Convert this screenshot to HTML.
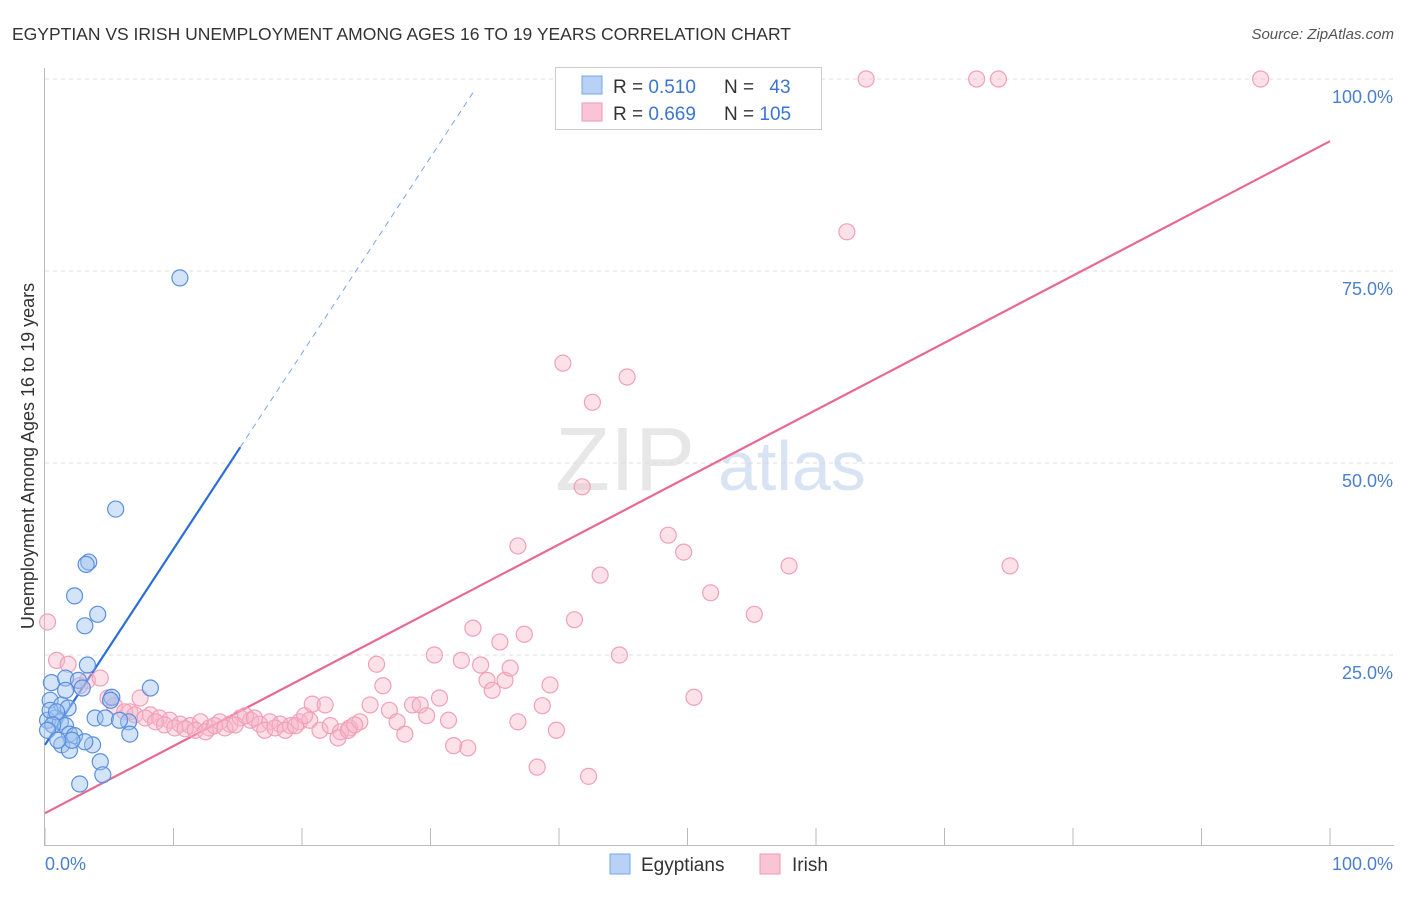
<!DOCTYPE html>
<html><head><meta charset="utf-8"><style>
body{margin:0;background:#fff;font-family:"Liberation Sans",sans-serif}
svg text{font-family:"Liberation Sans",sans-serif}
</style></head><body>
<svg width="1406" height="892" viewBox="0 0 1406 892" xmlns="http://www.w3.org/2000/svg">
<text x="12" y="40" font-size="17.5" fill="#333">EGYPTIAN VS IRISH UNEMPLOYMENT AMONG AGES 16 TO 19 YEARS CORRELATION CHART</text>
<text x="1394" y="39" font-size="15" fill="#555" font-style="italic" text-anchor="end">Source: ZipAtlas.com</text>
<text transform="translate(34,456) rotate(-90)" font-size="18" fill="#333" text-anchor="middle">Unemployment Among Ages 16 to 19 years</text>
<g id="grid"></g>
<g id="axes"></g>
<g>
<text x="555" y="490" font-size="90" fill="#ddd" font-family="Liberation Serif" opacity="0.7">ZIP</text>
<text x="718" y="490" font-size="70" fill="#c8d8f0" opacity="0.7">atlas</text>
</g>
<g id="lines"></g>
<g id="pts"></g>
<g>
<rect x="555.5" y="67.5" width="266" height="62" fill="#fff" stroke="#ccc"/>
<rect x="582" y="76" width="20" height="18" fill="#b8d2f5" stroke="#7aa6e6"/>
<rect x="582" y="103" width="20" height="18" fill="#fbc4d4" stroke="#ee9ab4"/>
<text x="613" y="93" font-size="19" fill="#333">R = <tspan fill="#3a75d0">0.510</tspan></text>
<text x="724" y="93" font-size="19" fill="#333">N = <tspan fill="#3a75d0" dx="10">43</tspan></text>
<text x="613" y="120" font-size="19" fill="#333">R = <tspan fill="#3a75d0">0.669</tspan></text>
<text x="724" y="120" font-size="19" fill="#333">N = <tspan fill="#3a75d0">105</tspan></text>
</g>
<g>
<rect x="610" y="854" width="20" height="20" fill="#b8d2f5" stroke="#7aa6e6"/>
<text x="641" y="871" font-size="19" fill="#333">Egyptians</text>
<rect x="760" y="854" width="20" height="20" fill="#fbc4d4" stroke="#ee9ab4"/>
<text x="792" y="871" font-size="19" fill="#333">Irish</text>
</g>
</svg>
<script>
const yTicks=[25,50,75,100];
const yTickLabels=["25.0%","50.0%","75.0%","100.0%"];
const xTicks=[0,10,20,30,40,50,60,70,80,90,100];
const egyX=[10.5,5.5,3.4,3.2,2.3,4.1,3.1,0.5,1.6,2.6,3.3,5.2,8.2,0.4,1.3,1.8,0.8,0.2,1.2,1.6,3.9,4.7,6.5,6.6,1.9,2.3,1.3,1.9,3.7,4.3,4.5,2.7,0.4,0.9,0.6,0.2,3.1,5.8,5.1,2.1,1.0,1.6,2.9];
const egyY=[74.1,44.0,37.1,36.8,32.7,30.3,28.8,21.4,22.0,21.7,23.7,19.5,20.7,19.1,18.5,18.1,16.8,16.5,16.3,15.8,16.8,16.8,16.3,14.7,14.7,14.5,13.3,12.6,13.3,11.1,9.4,8.2,17.8,17.6,15.9,15.2,13.7,16.5,19.1,13.9,13.9,20.4,20.7];
const irX=[0.2,0.9,1.8,2.7,3.3,4.3,4.9,7.4,6.6,8.2,8.9,9.7,10.5,11.3,12.1,12.8,13.6,14.4,15.2,16.0,16.7,17.5,18.3,19.1,19.8,20.6,21.4,22.2,23.0,23.7,24.5,5.4,6.2,7.0,7.8,8.6,9.3,10.1,10.9,11.7,12.5,13.2,14.0,14.8,15.6,16.3,17.1,17.9,18.7,19.5,20.2,20.8,21.8,22.8,23.6,24.1,25.3,25.8,26.3,26.8,27.4,28.0,28.6,29.2,29.7,30.3,30.7,31.4,31.8,32.4,32.9,33.3,33.9,34.4,34.8,35.4,35.8,36.2,36.8,37.3,36.8,38.3,38.7,39.3,39.8,40.3,41.2,41.8,42.3,42.6,43.2,44.7,45.3,48.5,49.7,50.5,51.8,55.2,57.9,62.4,75.1,63.9,72.5,74.2,94.6,47.6,55.9];
const irY=[29.3,24.3,23.8,21.0,21.7,22.0,19.4,19.4,17.6,17.2,16.8,16.5,16.0,15.8,16.3,15.5,16.3,16.0,16.8,16.5,16.0,16.3,16.0,15.8,16.3,16.5,15.2,15.8,15.0,15.5,16.3,18.4,17.6,17.2,16.8,16.3,15.9,15.5,15.4,15.2,15.0,15.8,15.5,15.9,17.1,16.8,15.2,15.5,15.2,15.8,17.1,18.6,18.5,14.2,15.2,15.9,18.5,23.8,21.0,17.8,16.3,14.7,18.5,18.5,17.1,25.0,19.4,16.5,13.2,24.3,12.9,28.5,23.7,21.7,20.4,26.7,21.7,23.3,16.3,27.7,39.2,10.4,18.4,21.1,15.2,63.0,29.6,46.9,9.2,57.9,35.4,25.0,61.2,40.6,38.4,19.5,33.1,30.3,36.6,80.1,36.6,100,100,100,100,100,100];
const egyLine=[13.3,2.55];
const irLine=[4.4,0.875];
const sx=v=>45+v*12.85, sy=v=>847-v*7.68;
const NS="http://www.w3.org/2000/svg";
function mk(t,a,p){const e=document.createElementNS(NS,t);for(const k in a)e.setAttribute(k,a[k]);p.appendChild(e);return e;}
const grid=document.getElementById('grid'),axes=document.getElementById('axes');
yTicks.forEach((v,i)=>{
 const l=mk('line',{x1:45,x2:1394,y1:sy(v),y2:sy(v),stroke:'#ddd','stroke-dasharray':'4,4'},grid);
 
 
 const t=mk('text',{x:1393,y:sy(v)+24,'font-size':18,fill:'#4a7fd0','text-anchor':'end'},axes);
 t.textContent=yTickLabels[i];
 
 
});
mk('line',{x1:44.5,x2:44.5,y1:68,y2:845,stroke:'#bbb'},axes);
mk('line',{x1:44,x2:1394,y1:845.5,y2:845.5,stroke:'#bbb'},axes);
xTicks.forEach(v=>{const l=mk('line',{x1:sx(v),x2:sx(v),y1:828,y2:845,stroke:'#bbb'},axes);
 
 });
let t1=mk('text',{x:45,y:870,'font-size':18,fill:'#4a7fd0'},axes);t1.textContent='0.0%';


let t2=mk('text',{x:1393,y:870,'font-size':18,fill:'#4a7fd0','text-anchor':'end'},axes);t2.textContent='100.0%';


const pts=document.getElementById('pts');
irX.forEach((x,i)=>{const c=mk('circle',{cx:sx(x),cy:sy(irY[i]),r:8,fill:'rgba(248,180,200,0.4)',stroke:'#f0a0ba','stroke-width':1.2},pts);
 
 });
egyX.forEach((x,i)=>{const c=mk('circle',{cx:sx(x),cy:sy(egyY[i]),r:8,fill:'rgba(160,195,240,0.45)',stroke:'#5a8fdf','stroke-width':1.2},pts);
 
 });
const lines=document.getElementById('lines');
const f=(L,x)=>L[0]+L[1]*x;
let a=mk('line',{x1:sx(0),y1:sy(f(egyLine,0)),x2:sx(15.2),y2:sy(f(egyLine,15.2)),stroke:'#2a6fd6','stroke-width':2.2},lines);


let b=mk('line',{x1:sx(15.2),y1:sy(f(egyLine,15.2)),x2:sx(33.4),y2:sy(f(egyLine,33.4)),stroke:'#7aa6e6','stroke-width':1,'stroke-dasharray':'6,5'},lines);


let c=mk('line',{x1:sx(0),y1:sy(f(irLine,0)),x2:sx(100),y2:sy(f(irLine,100)),stroke:'#e86892','stroke-width':2.2},lines);


</script>
</body></html>
